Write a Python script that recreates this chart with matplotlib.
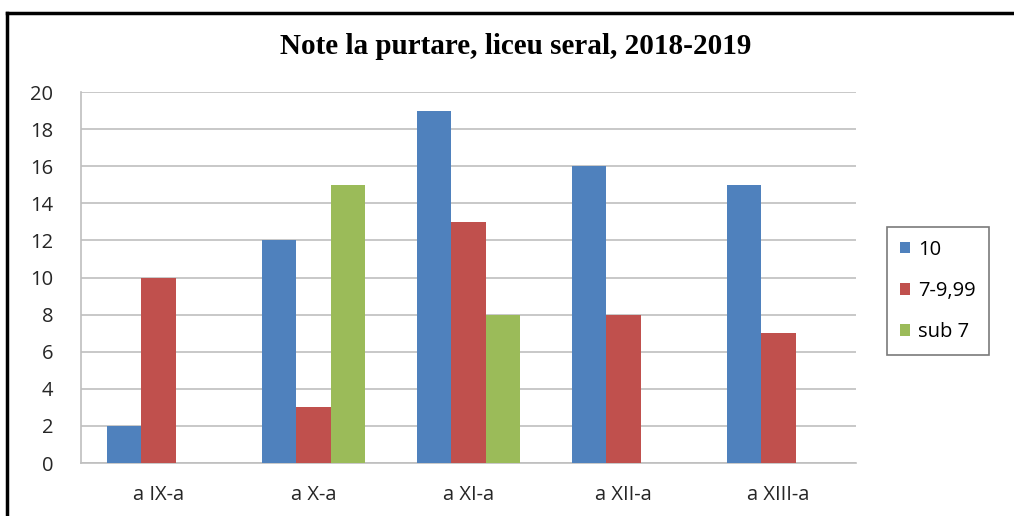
import numpy as np
import matplotlib.pyplot as plt
from matplotlib.lines import Line2D

categories = ["a IX-a", "a X-a", "a XI-a", "a XII-a", "a XIII-a"]
series_names = ["10", "7-9,99", "sub 7"]
nota_10 = [2, 12, 19, 16, 15]
nota_7_999 = [10, 3, 13, 8, 7]
nota_sub7 = [0, 15, 8, 0, 0]
yticks = list(range(0, 21, 2))

COLORS = ["#4F81BD", "#C0504D", "#9BBB59"]
GRID = "#BFBFBF"
FONT = "Open Sans"

fig = plt.figure(figsize=(10.14, 5.16), dpi=100)
ax = fig.add_axes([0.0799, 0.1027, 0.7642, 0.719])

x = np.arange(len(categories))
w = 1 / 4.5
for i, (vals, name) in enumerate(zip([nota_10, nota_7_999, nota_sub7], series_names)):
    ax.bar(x + (i - 1) * w, vals, width=w, color=COLORS[i], label=name, zorder=3)

ax.set_xlim(-0.5, len(categories) - 0.5)
ax.set_ylim(0, 20)
ax.set_yticks(yticks)
ax.set_xticks(x)
ax.set_xticklabels(categories, fontsize=14.5, family=FONT, color="#262626")
ax.set_yticklabels([str(t) for t in yticks], fontsize=14.5, family=FONT, color="#262626")
ax.tick_params(axis="both", length=0)
ax.tick_params(axis="x", pad=16)
ax.tick_params(axis="y", pad=20)
ax.grid(axis="y", color=GRID, lw=1.2, zorder=0)
for s in ["top", "right"]:
    ax.spines[s].set_visible(False)
ax.spines["left"].set_color(GRID)
ax.spines["bottom"].set_color(GRID)
ax.spines["left"].set_linewidth(1.2)
ax.spines["bottom"].set_linewidth(1.2)

fig.text(0.509, 0.909, "Note la purtare, liceu seral, 2018-2019",
         ha="center", va="center", fontsize=21, fontweight="bold",
         family="Liberation Serif")

leg = fig.legend(loc="center left", bbox_to_anchor=(0.8748, 0.436),
                 prop={"family": FONT, "size": 14.5},
                 frameon=True, fancybox=False, edgecolor="#595959",
                 handlelength=0.5, handleheight=0.5, handletextpad=0.4,
                 labelspacing=1.05, borderpad=0.65, borderaxespad=0)
leg.get_frame().set_linewidth(1.2)

# outer frame (top and left edges visible)
fig.add_artist(Line2D([0.0069, 1.0], [0.975, 0.975], color="black", lw=2.5,
                      transform=fig.transFigure))
fig.add_artist(Line2D([0.0069, 0.0069], [0.0, 0.975], color="black", lw=2.5,
                      transform=fig.transFigure))

fig.savefig("out.png", dpi=100)
